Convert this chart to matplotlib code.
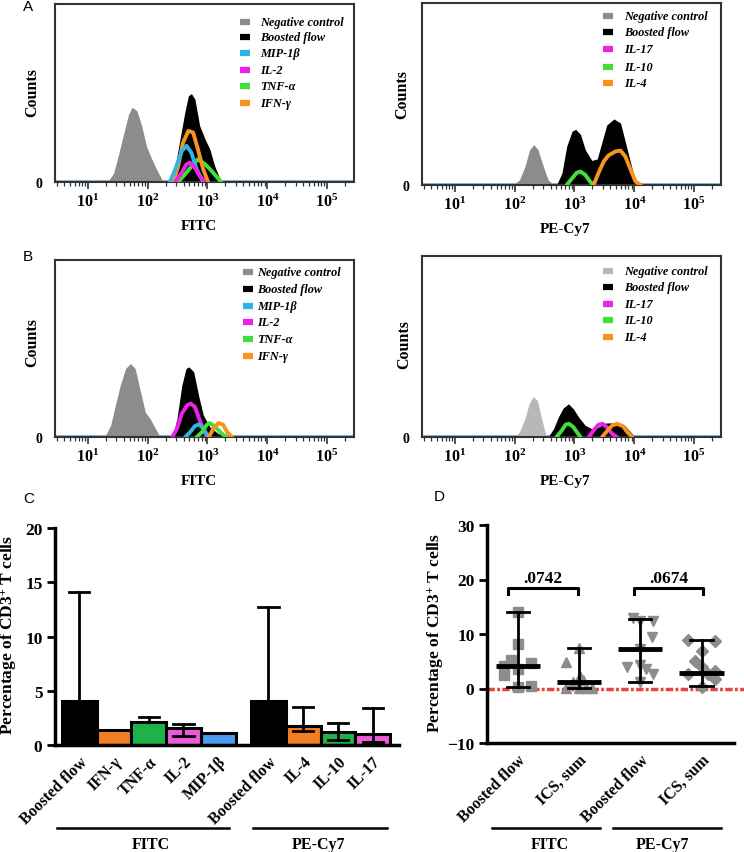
import numpy as np
import matplotlib
matplotlib.use('Agg')
import matplotlib.pyplot as plt
from matplotlib.lines import Line2D
from matplotlib.ticker import LogLocator, FixedLocator, NullFormatter, FixedFormatter

plt.rcParams['mathtext.fontset'] = 'custom'
plt.rcParams['mathtext.rm'] = 'Liberation Serif'
plt.rcParams['mathtext.bf'] = 'Liberation Serif:bold'
plt.rcParams['mathtext.it'] = 'Liberation Serif:italic'
plt.rcParams['font.family'] = ['Liberation Serif', 'DejaVu Serif']
plt.rcParams['lines.scale_dashes'] = False

# ---------------- DATA ----------------
# Histogram curves: x = log10(fluorescence), y = relative counts (% of panel height)
# Panel A, FITC
a_fitc_neg_x = [1.33, 1.43, 1.51, 1.59, 1.68, 1.74, 1.82, 1.90, 1.98, 2.07, 2.15, 2.26]
a_fitc_neg_y = [0, 5, 15, 26, 38, 42, 40, 31.5, 20, 12.8, 7, 0]
a_fitc_boost_x = [2.37, 2.46, 2.54, 2.62, 2.68, 2.73, 2.79, 2.87, 2.96, 3.04, 3.12, 3.23]
a_fitc_boost_y = [0, 9, 24, 39, 48.4, 49.7, 46.5, 31.5, 24, 18.4, 9, 0]
a_fitc_mip_x = [2.37, 2.46, 2.57, 2.65, 2.73, 2.82, 2.93]
a_fitc_mip_y = [0, 7, 17.4, 20.3, 16.5, 7, 0]
a_fitc_il2_x = [2.46, 2.57, 2.65, 2.71, 2.79, 2.87, 2.96]
a_fitc_il2_y = [0, 5.3, 10, 10.9, 8, 3.4, 0]
a_fitc_tnf_x = [2.51, 2.65, 2.76, 2.84, 2.96, 3.07, 3.23]
a_fitc_tnf_y = [0, 5.3, 10, 12.8, 10, 6.2, 0]
a_fitc_ifn_x = [2.43, 2.51, 2.59, 2.68, 2.76, 2.84, 2.93, 3.01]
a_fitc_ifn_y = [0, 9, 22, 28.7, 27.8, 18.4, 7, 0]

# Panel A, PE-Cy7
a_pe_neg_x = [1.97, 2.08, 2.17, 2.25, 2.32, 2.39, 2.48, 2.56, 2.65]
a_pe_neg_y = [0, 2.8, 10, 19.4, 22.2, 19.4, 10, 2.8, 0]
a_pe_boost_x = [2.70, 2.79, 2.87, 2.96, 3.02, 3.10, 3.18, 3.29, 3.38, 3.46, 3.54, 3.66, 3.77, 3.85, 3.94, 4.02, 4.08]
a_pe_boost_y = [0, 6.5, 21.3, 29.6, 30.6, 27.8, 19.4, 13.5, 14.3, 23.7, 33, 36.3, 34, 23.7, 12, 1.9, 0]
a_pe_il10_x = [2.87, 2.96, 3.04, 3.10, 3.18, 3.26, 3.32]
a_pe_il10_y = [0, 3.7, 6.8, 7.4, 5.6, 1.9, 0]
a_pe_il4_x = [3.32, 3.40, 3.49, 3.57, 3.69, 3.77, 3.85, 3.94, 4.02, 4.11]
a_pe_il4_y = [0, 6.5, 13, 16.3, 18.5, 18.9, 15.7, 8.3, 1.9, 0]

# Panel B, FITC
b_fitc_neg_x = [1.28, 1.38, 1.46, 1.54, 1.63, 1.71, 1.79, 1.88, 1.96, 2.04, 2.13, 2.21]
b_fitc_neg_y = [0, 6.6, 18, 29, 38.7, 41.5, 38.7, 25.5, 14, 10.4, 4.7, 0]
b_fitc_boost_x = [2.41, 2.49, 2.57, 2.64, 2.69, 2.77, 2.85, 2.93, 3.04, 3.18, 3.38]
b_fitc_boost_y = [0, 10.4, 29, 38.7, 39.6, 36.8, 23.6, 12.3, 5.7, 1.9, 0]
b_fitc_il2_x = [2.41, 2.49, 2.57, 2.66, 2.72, 2.79, 2.88, 2.99]
b_fitc_il2_y = [0, 4.7, 13.2, 17.9, 18.9, 17, 8.5, 0]
b_fitc_mip_x = [2.63, 2.71, 2.79, 2.86, 2.93, 3.02]
b_fitc_mip_y = [0, 2.8, 6.2, 7.2, 4.7, 0]
b_fitc_tnf_x = [2.82, 2.91, 2.99, 3.04, 3.13, 3.24, 3.32]
b_fitc_tnf_y = [0, 2.8, 7, 7.9, 5.7, 1.9, 0]
b_fitc_ifn_x = [3.02, 3.10, 3.18, 3.26, 3.33, 3.41]
b_fitc_ifn_y = [0, 4.7, 7.9, 7, 2.8, 0]

# Panel B, PE-Cy7
b_pe_neg_x = [2.0, 2.08, 2.17, 2.24, 2.31, 2.38, 2.45, 2.53]
b_pe_neg_y = [0, 2.8, 10, 18.3, 22.4, 20.2, 10, 0]
b_pe_boost_x = [2.56, 2.65, 2.73, 2.81, 2.90, 2.98, 3.07, 3.18, 3.29, 3.40, 3.52, 3.69, 3.83, 3.91, 4.02]
b_pe_boost_y = [0, 4.6, 11, 16, 18.3, 15.6, 11, 6.4, 4.6, 5.5, 7.7, 7.9, 6.8, 3.7, 0]
b_pe_il10_x = [2.70, 2.79, 2.85, 2.91, 2.98, 3.10]
b_pe_il10_y = [0, 3.7, 6.8, 7.3, 5.5, 0]
b_pe_il17_x = [3.24, 3.32, 3.40, 3.47, 3.54, 3.63, 3.71]
b_pe_il17_y = [0, 3.7, 6.8, 7.3, 5.5, 1.8, 0]
b_pe_il4_x = [3.46, 3.54, 3.63, 3.71, 3.81, 3.88, 3.97]
b_pe_il4_y = [0, 3.1, 6.4, 7.3, 6, 2.8, 0]

hist_tick_exps = [1, 2, 3, 4, 5]
fitc_legend = ['Negative control', 'Boosted flow', 'MIP-1β', 'IL-2', 'TNF-α', 'IFN-γ']
pe_legend = ['Negative control', 'Boosted flow', 'IL-17', 'IL-10', 'IL-4']

# Panel C (bars)
c_labels = ['Boosted flow', 'IFN-γ', 'TNF-α', 'IL-2', 'MIP-1β', 'Boosted flow', 'IL-4', 'IL-10', 'IL-17']
c_values = [4.1, 1.35, 2.1, 1.6, 1.15, 4.1, 1.75, 1.2, 1.0]
c_err_low = [None, None, None, 0.85, None, None, 1.25, 0.45, 0.3]
c_err_high = [14.1, None, 2.55, 1.95, None, 12.75, 3.5, 2.0, 3.45]
c_groups = ['FITC', 'PE-Cy7']

# Panel D (scatter)
d_labels = ['Boosted flow', 'ICS, sum', 'Boosted flow', 'ICS, sum']
d_fitc_boost = [14.0, 8.1, 5.2, 4.1, 2.4, 3.6, 4.7, 0.3, 0.5]
d_fitc_ics = [7.5, 4.8, 2.3, 1.5, 1.2, 0.1, 0.1, 0.1, 0.1]
d_pe_boost = [12.9, 12.3, 12.3, 9.5, 7.3, 3.9, 4.3, 3.6, 2.7, 1.2]
d_pe_ics = [8.9, 8.7, 6.9, 5.1, 3.9, 2.7, 2.7, 3.3, 1.8, 0.3]
d_median = [4.1, 1.2, 7.3, 2.9]
d_min = [0.3, 0.1, 1.2, 0.4]
d_max = [14.0, 7.5, 12.8, 8.9]
d_pvalues = ['.0742', '.0674']
d_groups = ['FITC', 'PE-Cy7']

# point jitter (x offsets, category units)
d_fitc_boost_dx = [0, 0, -0.11, -0.22, -0.22, 0, 0.21, 0, 0.21]
d_fitc_ics_dx = [0, -0.21, 0.02, 0.06, -0.1, -0.21, 0, 0.11, 0.22]
d_pe_boost_dx = [-0.11, 0, 0.21, 0.2, 0, -0.22, 0, 0.1, 0.21, 0]
d_pe_ics_dx = [-0.22, 0.22, 0, -0.11, 0, -0.22, 0.11, 0.22, 0.22, 0]

# ---------------- FIGURE ----------------
W, H = 744, 853
fig = plt.figure(figsize=(W / 100, H / 100), dpi=100)


def box(x0, y0, x1, y1):
    return [x0 / W, 1 - y1 / H, (x1 - x0) / W, (y1 - y0) / H]


def fx(x):
    return x / W


def fy(y):
    return 1 - y / H


GRAY = '#8c8c8c'
C_CYAN = '#2fb4e6'
C_MAG = '#ee22e6'
C_GREEN = '#3fe03a'
C_ORANGE = '#f7931e'


def hist_axes(rect, fills, lines, xlabel):
    ax = fig.add_axes(rect)
    ax.set_xscale('log')
    ax.set_xlim(10 ** 0.45, 10 ** 5.45)
    ax.set_ylim(0, 100)
    ax.axhline(0.6, color='#8fb8d8', lw=1.5, zorder=1)
    for x, y, c in fills:
        ax.fill_between(10 ** np.array(x), y, color=c, lw=0, zorder=2)
    for x, y, c in lines:
        ax.plot(10 ** np.array(x), y, color=c, lw=2.8, zorder=3, solid_joinstyle='round',
                solid_capstyle='round')
    for s in ax.spines.values():
        s.set_color('#333333')
        s.set_linewidth(1.5)
    ax.xaxis.set_major_locator(FixedLocator([10.0 ** e for e in hist_tick_exps]))
    ax.xaxis.set_major_formatter(FixedFormatter([r'$\mathbf{10^{%d}}$' % e for e in hist_tick_exps]))
    ax.xaxis.set_minor_locator(LogLocator(base=10, subs=np.arange(2, 10), numticks=20))
    ax.xaxis.set_minor_formatter(NullFormatter())
    ax.tick_params(axis='x', which='major', direction='out', length=5, width=1.2,
                   labelsize=11.5, pad=3, color='#333333')
    ax.tick_params(axis='x', which='minor', direction='out', length=3, width=0.9, color='#333333')
    ax.set_yticks([0])
    ax.set_yticklabels(['0'], fontsize=10, fontweight='bold')
    ax.tick_params(axis='y', length=0, pad=9)
    ax.set_xlabel(xlabel, fontsize=11, fontweight='bold')
    hpx = rect[3] * H
    ax.xaxis.set_label_coords(0.48, -37 / hpx)
    return ax


def legend(items, mx, tx, ys):
    for (lab, c), y in zip(items, ys):
        fig.add_artist(Line2D([fx(mx), fx(mx + 10)], [fy(y), fy(y)], lw=4.5, color=c,
                              solid_capstyle='butt'))
        fig.text(fx(tx), fy(y), lab, fontsize=8.8, fontweight='bold', fontstyle='italic',
                 va='center', ha='left')


fitc_cols = [GRAY, 'black', C_CYAN, C_MAG, C_GREEN, C_ORANGE]
pe_cols = [GRAY, 'black', C_MAG, C_GREEN, C_ORANGE]

# Panel A left
hist_axes(box(55, 5, 354, 183),
          [(a_fitc_neg_x, a_fitc_neg_y, GRAY), (a_fitc_boost_x, a_fitc_boost_y, 'black')],
          [(a_fitc_tnf_x, a_fitc_tnf_y, C_GREEN), (a_fitc_ifn_x, a_fitc_ifn_y, C_ORANGE),
           (a_fitc_mip_x, a_fitc_mip_y, C_CYAN), (a_fitc_il2_x, a_fitc_il2_y, C_MAG)],
          'FITC')
legend(list(zip(fitc_legend, fitc_cols)), 240, 260, [22.7, 38.3, 54.3, 71, 87.3, 104])

# Panel A right
hist_axes(box(422, 4, 721, 186),
          [(a_pe_neg_x, a_pe_neg_y, GRAY), (a_pe_boost_x, a_pe_boost_y, 'black')],
          [(a_pe_il10_x, a_pe_il10_y, C_GREEN), (a_pe_il4_x, a_pe_il4_y, C_ORANGE)],
          'PE-Cy7')
legend(list(zip(pe_legend, pe_cols)), 603, 624, [16.7, 33.3, 50, 67.7, 84.3])

# Panel B left
hist_axes(box(55, 261, 354, 438),
          [(b_fitc_neg_x, b_fitc_neg_y, GRAY), (b_fitc_boost_x, b_fitc_boost_y, 'black')],
          [(b_fitc_il2_x, b_fitc_il2_y, C_MAG), (b_fitc_mip_x, b_fitc_mip_y, C_CYAN),
           (b_fitc_tnf_x, b_fitc_tnf_y, C_GREEN), (b_fitc_ifn_x, b_fitc_ifn_y, C_ORANGE)],
          'FITC')
legend(list(zip(fitc_legend, fitc_cols)), 243, 257, [273.3, 290, 306.7, 323.3, 340, 356.7])

# Panel B right
hist_axes(box(422, 257, 721, 438),
          [(b_pe_neg_x, b_pe_neg_y, '#b8b8b8'), (b_pe_boost_x, b_pe_boost_y, 'black')],
          [(b_pe_il10_x, b_pe_il10_y, C_GREEN), (b_pe_il17_x, b_pe_il17_y, C_MAG),
           (b_pe_il4_x, b_pe_il4_y, C_ORANGE)],
          'PE-Cy7')
legend(list(zip(pe_legend, ['#b8b8b8', 'black', C_MAG, C_GREEN, C_ORANGE])), 603, 624,
       [271.7, 287.7, 305, 321, 338.3])

# Counts labels
for (x, y) in [(32, 93), (402, 95), (32, 343), (404, 345)]:
    fig.text(fx(x), fy(y), 'Counts', rotation=90, fontsize=11.5, fontweight='bold',
             ha='center', va='center')

# Panel letters
for lab, (x, y) in zip('ABCD', [(28, 7), (28, 257), (29, 499), (439, 497)]):
    fig.text(fx(x), fy(y), lab, fontsize=11, family='Liberation Sans', ha='center', va='center')

# ---------------- Panel C ----------------
axc = fig.add_axes(box(55, 529, 399, 746))
c_colors = ['black', '#f47d22', '#1fb24a', '#ea5ad9', '#4a9cf0',
            'black', '#f47d22', '#1fb24a', '#ea5ad9']
c_x = [0, 1, 2, 3, 4, 5.45, 6.45, 7.45, 8.45]
axc.bar(c_x, c_values, width=1.0, color=c_colors, edgecolor='black', linewidth=2.2, zorder=2)
for x, v, lo, hi in zip(c_x, c_values, c_err_low, c_err_high):
    if hi is not None:
        axc.plot([x, x], [v, hi], color='black', lw=2, zorder=3)
        axc.plot([x - 0.29, x + 0.29], [hi, hi], color='black', lw=2, zorder=3)
    if lo is not None:
        axc.plot([x, x], [lo, v], color='black', lw=2, zorder=3)
        axc.plot([x - 0.29, x + 0.29], [lo, lo], color='black', lw=2, zorder=3)
axc.set_xlim(-0.70, 9.21)
axc.set_ylim(0, 20)
axc.set_yticks([0, 5, 10, 15, 20])
axc.set_yticklabels(['0', '5', '10', '15', '20'], fontsize=12.5, fontweight='bold')
axc.set_xticks(c_x)
axc.set_xticklabels(c_labels, rotation=45, ha='right', rotation_mode='anchor',
                    fontsize=11.5, fontweight='bold')
axc.tick_params(axis='x', length=0, pad=6)
axc.tick_params(axis='y', direction='out', length=6, width=2, pad=3)
for s in ['top', 'right']:
    axc.spines[s].set_visible(False)
for s in ['left', 'bottom']:
    axc.spines[s].set_linewidth(2.5)
fig.text(fx(9), fy(635), r'Percentage of CD3$^{\mathbf{+}}$ T cells', rotation=90,
         fontsize=12.5, fontweight='bold', ha='center', va='center')

# ---------------- Panel D ----------------
axd = fig.add_axes(box(487, 526, 734, 744))
axd.plot([0.5, 4.69], [0, 0], color='#e8433e', lw=2.5, dashes=(5.3, 1.7, 2.0, 1.7),
         clip_on=False, zorder=1.5)
d_sets = [(d_fitc_boost, d_fitc_boost_dx, 's', 7), (d_fitc_ics, d_fitc_ics_dx, '^', 7.5),
          (d_pe_boost, d_pe_boost_dx, 'v', 7.5), (d_pe_ics, d_pe_ics_dx, 'D', 6.3)]
for i, (vals, dx, m, ms) in enumerate(d_sets):
    pos = i + 1
    axd.plot([pos + d for d in dx], vals, linestyle='none', marker=m, ms=ms, color=GRAY,
             mec=GRAY, zorder=2, clip_on=False)
    axd.plot([pos, pos], [d_min[i], d_max[i]], color='black', lw=2, zorder=3)
    for yv in (d_min[i], d_max[i]):
        axd.plot([pos - 0.18, pos + 0.18], [yv, yv], color='black', lw=2, zorder=3)
    axd.plot([pos - 0.36, pos + 0.36], [d_median[i], d_median[i]], color='black', lw=3.5,
             zorder=3, solid_capstyle='butt')
for (x0, x1), p in zip([(0.84, 1.98), (2.9, 4.03)], d_pvalues):
    axd.plot([x0, x0, x1, x1], [17.3, 18.4, 18.4, 17.3], color='black', lw=2.2, zorder=3)
    axd.text((x0 + x1) / 2, 20.2, p, fontsize=12.5, fontweight='bold', ha='center', va='center')
axd.set_xlim(0.5, 4.53)
axd.set_ylim(-10, 30)
axd.set_yticks([-10, 0, 10, 20, 30])
axd.set_yticklabels(['\u221210', '0', '10', '20', '30'], fontsize=12.5, fontweight='bold')
axd.set_xticks([1, 2, 3, 4])
axd.set_xticklabels(d_labels, rotation=45, ha='right', rotation_mode='anchor',
                    fontsize=11.5, fontweight='bold')
axd.tick_params(axis='x', length=0, pad=6)
axd.tick_params(axis='y', direction='out', length=6, width=2, pad=3)
for s in ['top', 'right']:
    axd.spines[s].set_visible(False)
for s in ['left', 'bottom']:
    axd.spines[s].set_linewidth(2.5)
fig.text(fx(435.5), fy(633), r'Percentage of CD3$^{\mathbf{+}}$ T cells', rotation=90,
         fontsize=12.5, fontweight='bold', ha='center', va='center')

# group lines and labels
for (x0, x1, xl, lab) in [(57, 229, 151, c_groups[0]), (253, 387, 318, c_groups[1]),
                          (492, 600, 550, d_groups[0]), (613, 721, 662, d_groups[1])]:
    fig.add_artist(Line2D([fx(x0), fx(x1)], [fy(829), fy(829)], lw=1.8, color='black'))
    fig.text(fx(xl), fy(845), lab, fontsize=11.5, fontweight='bold', ha='center', va='center')

fig.savefig('out.png', dpi=100)
